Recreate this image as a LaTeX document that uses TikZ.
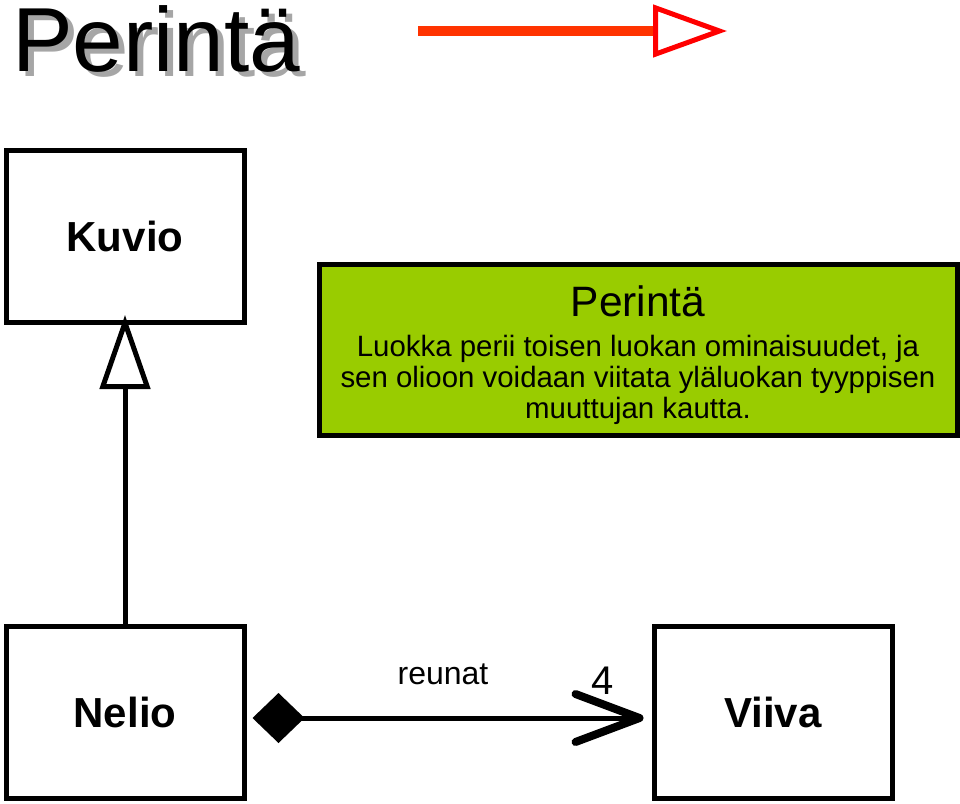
\documentclass[tikz,border=0pt]{standalone}
\usepackage{fontspec}
\setmainfont{Liberation Sans}
\usetikzlibrary{arrows.meta}
\definecolor{lime}{HTML}{99CC00}
\definecolor{arrowline}{HTML}{FF3300}
\definecolor{arrowhead}{HTML}{FF0000}
\definecolor{shadow}{HTML}{A6A6A6}
\tikzset{
  classbox/.style={draw=black, line width=5pt, fill=white, minimum width=238pt, minimum height=172pt, inner sep=0pt, font=\fontsize{42}{50}\selectfont\bfseries},
  notebox/.style={draw=black, line width=5pt, fill=lime, minimum width=638pt, minimum height=171pt, inner sep=0pt},
  notetext/.style={anchor=base, inner sep=0pt, font=\fontsize{29.4}{31}\selectfont},
  titlefont/.style={anchor=base west, inner sep=0pt, font=\fontsize{91}{100}\selectfont},
  conn/.style={line width=5pt, draw=black},
}
\begin{document}
\begin{tikzpicture}[x=1pt,y=-1pt]
\useasboundingbox (0,0) rectangle (960,803);
% title with shadow
\node[titlefont, text=shadow] (titleshadow) at (18,76) {Perintä};
\node[titlefont, text=black] (title) at (12,71) {Perintä};
% red legend arrow
\coordinate (ra) at (418,31);
\coordinate (rb) at (727,31);
\draw[line width=10pt, arrowline, -{Triangle[length=74pt, width=52pt, fill=white, color=arrowhead, line width=5pt]}] (ra) -- (rb);
% boxes
\node[classbox] (kuvio) at (125,236.5) {Kuvio};
\node[classbox] (nelio) at (125,712.5) {Nelio};
\node[classbox] (viiva) at (773,712.5) {Viiva};
\node[notebox] (note) at (638,350) {};
\node[anchor=base, inner sep=0pt, font=\fontsize{42.5}{46}\selectfont] (notetitle) at (638,316) {Perintä};
\node[notetext] (l1) at (638,356) {Luokka perii toisen luokan ominaisuudet, ja};
\node[notetext] (l2) at (638,387) {sen olioon voidaan viitata yläluokan tyyppisen};
\node[notetext] (l3) at (638,418) {muuttujan kautta.};
% generalization
\draw[conn, shorten >=-10pt, -{Triangle[length=74pt, width=50pt, fill=white]}] (nelio.north) -- (kuvio.south);
% composition
\draw[conn, shorten <=6pt, shorten >=8pt,
  {Diamond[length=52pt, width=50pt, fill=black, line width=0pt]}-{Straight Barb[length=64pt, width=48pt, line width=8pt, round]}]
  ([yshift=-5.5pt]nelio.east) -- ([yshift=-5.5pt]viiva.west);
\node[font=\fontsize{32}{36}\selectfont, anchor=base] (role) at (443,684) {reunat};
\node[font=\fontsize{40}{44}\selectfont, anchor=base] (mult) at (603,694) {4};
\end{tikzpicture}
\end{document}
